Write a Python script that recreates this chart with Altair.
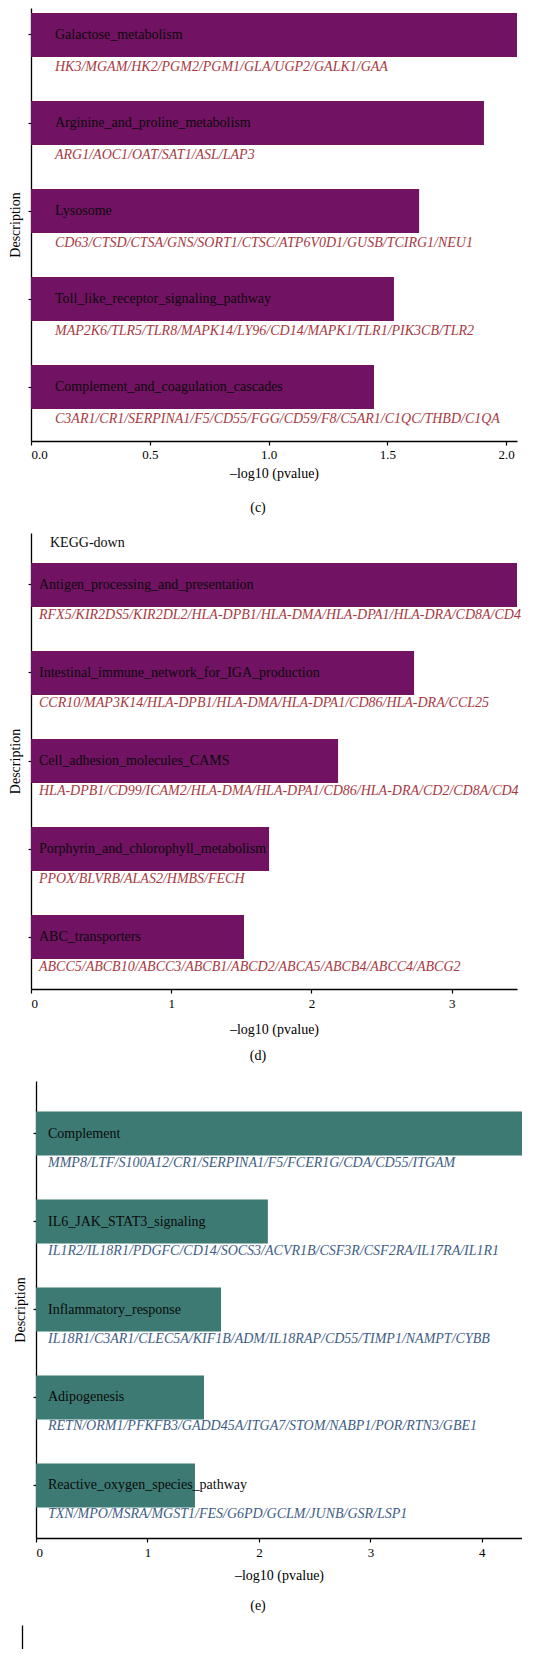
import altair as alt
import pandas as pd

FONT = "Liberation Serif"

# ---- Panel (c): KEGG-up ----
c_terms = ["Galactose_metabolism", "Arginine_and_proline_metabolism", "Lysosome",
           "Toll_like_receptor_signaling_pathway", "Complement_and_coagulation_cascades"]
c_values = [2.046, 1.907, 1.634, 1.528, 1.444]
c_genes = ["HK3/MGAM/HK2/PGM2/PGM1/GLA/UGP2/GALK1/GAA",
           "ARG1/AOC1/OAT/SAT1/ASL/LAP3",
           "CD63/CTSD/CTSA/GNS/SORT1/CTSC/ATP6V0D1/GUSB/TCIRG1/NEU1",
           "MAP2K6/TLR5/TLR8/MAPK14/LY96/CD14/MAPK1/TLR1/PIK3CB/TLR2",
           "C3AR1/CR1/SERPINA1/F5/CD55/FGG/CD59/F8/C5AR1/C1QC/THBD/C1QA"]
c_ticks = [0.0, 0.5, 1.0, 1.5, 2.0]

# ---- Panel (d): KEGG-down ----
d_terms = ["Antigen_processing_and_presentation", "Intestinal_immune_network_for_IGA_production",
           "Cell_adhesion_molecules_CAMS", "Porphyrin_and_chlorophyll_metabolism", "ABC_transporters"]
d_values = [3.466, 2.732, 2.19, 1.698, 1.519]
d_genes = ["RFX5/KIR2DS5/KIR2DL2/HLA-DPB1/HLA-DMA/HLA-DPA1/HLA-DRA/CD8A/CD4",
           "CCR10/MAP3K14/HLA-DPB1/HLA-DMA/HLA-DPA1/CD86/HLA-DRA/CCL25",
           "HLA-DPB1/CD99/ICAM2/HLA-DMA/HLA-DPA1/CD86/HLA-DRA/CD2/CD8A/CD4",
           "PPOX/BLVRB/ALAS2/HMBS/FECH",
           "ABCC5/ABCB10/ABCC3/ABCB1/ABCD2/ABCA5/ABCB4/ABCC4/ABCG2"]
d_ticks = [0, 1, 2, 3]

# ---- Panel (e): Hallmark ----
e_terms = ["Complement", "IL6_JAK_STAT3_signaling", "Inflammatory_response", "Adipogenesis",
           "Reactive_oxygen_species_pathway"]
e_values = [4.36, 2.08, 1.66, 1.507, 1.426]
e_genes = ["MMP8/LTF/S100A12/CR1/SERPINA1/F5/FCER1G/CDA/CD55/ITGAM",
           "IL1R2/IL18R1/PDGFC/CD14/SOCS3/ACVR1B/CSF3R/CSF2RA/IL17RA/IL1R1",
           "IL18R1/C3AR1/CLEC5A/KIF1B/ADM/IL18RAP/CD55/TIMP1/NAMPT/CYBB",
           "RETN/ORM1/PFKFB3/GADD45A/ITGA7/STOM/NABP1/POR/RTN3/GBE1",
           "TXN/MPO/MSRA/MGST1/FES/G6PD/GCLM/JUNB/GSR/LSP1"]
e_ticks = [0, 1, 2, 3, 4]

# ---- Panel (f): next panel, only its axis is visible ----
f_terms = ["(f)"]
f_values = [0]

PURPLE = "#721262"
TEAL = "#3d7a73"
RED_TXT = "#a8393f"
BLUE_TXT = "#3e5d85"
INK = "#0a0a0a"


def panel(terms, values, genes, ticks, fmt, bar_color, gene_color, height,
          pad_outer, align, text_dx, gene_dy, label_pad, x_title_pad,
          label, label_offset, shift=0, heading=None):
    df = pd.DataFrame({"Description": terms, "pvalue": values, "genes": genes})
    y = alt.Y("Description:N", sort=terms,
              scale=alt.Scale(paddingInner=0.5, paddingOuter=pad_outer, align=align),
              axis=alt.Axis(labels=False, ticks=True, tickSize=3, tickColor="black",
                            tickWidth=1.2, domainColor="black", domainWidth=1.3,
                            title="Description", titlePadding=5, grid=False,
                            offset=-shift))
    width = 486 + shift
    x = alt.X("pvalue:Q",
              scale=alt.Scale(domain=[0, max(values)], nice=False, zero=True,
                              range=[shift, width]),
              axis=alt.Axis(values=ticks, format=fmt, grid=False, tickSize=4,
                            tickColor="black", tickWidth=1.2, domainColor="black",
                            domainWidth=1.3, labelPadding=label_pad,
                            title="\u2013log10 (pvalue)", titlePadding=x_title_pad))
    base = alt.Chart(df)
    bars = base.mark_bar(color=bar_color).encode(x=x, y=y)
    names = base.mark_text(align="left", baseline="middle", dx=text_dx, font=FONT,
                           fontSize=14, color=INK).encode(
        x=alt.datum(0), y=y, text="Description:N")
    gene_txt = base.mark_text(align="left", baseline="middle", dx=text_dx, dy=gene_dy,
                              font=FONT, fontSize=14, fontStyle="italic",
                              color=gene_color).encode(
        x=alt.datum(0), y=y, text="genes:N")
    layers = [bars, names, gene_txt]
    if heading:
        hd = alt.Chart(pd.DataFrame({"t": [heading]})).mark_text(
            align="left", baseline="middle", font=FONT, fontSize=14, color=INK
        ).encode(x=alt.value(19), y=alt.value(10), text="t:N")
        layers.append(hd)
    return alt.layer(*layers).properties(
        width=width, height=height,
        title=alt.TitleParams(label, orient="bottom", offset=label_offset, font=FONT,
                              fontSize=14, fontWeight="normal", color="black",
                              dx=-16 - shift / 2))


pc = panel(c_terms, c_values, c_genes, c_ticks, ".1f", PURPLE, RED_TXT, 433,
           0.21, 0.135, 24, 32, 3, 5, "(c)", 21)
pdn = panel(d_terms, d_values, d_genes, d_ticks, "d", PURPLE, RED_TXT, 456,
            0.34, 0.5, 8, 30, 4, 12, "(d)", 13, heading="KEGG-down")
pe = panel(e_terms, e_values, e_genes, e_ticks, "d", TEAL, BLUE_TXT, 457,
           0.347, 0.5, 12, 29, 4, 9, "(e)", 17, shift=5)

fdf = pd.DataFrame({"Description": f_terms, "pvalue": f_values})
pf = alt.Chart(fdf).mark_bar(opacity=0).encode(
    x=alt.X("pvalue:Q", axis=None),
    y=alt.Y("Description:N", axis=alt.Axis(labels=False, ticks=False, title=None,
                                            domainColor="black", domainWidth=1.3,
                                            offset=9)),
).properties(width=486, height=24)

chart = alt.vconcat(pc, pdn, alt.vconcat(pe, pf, spacing=12), spacing=18).properties(
    padding=0, background="white"
).configure_view(stroke=None).configure_axis(
    labelFont=FONT, labelFontSize=13, labelColor="black",
    titleFont=FONT, titleFontSize=14, titleFontWeight="normal", titleColor="black"
)

chart.save("out.html", embed_options={"renderer": "svg", "actions": False})
